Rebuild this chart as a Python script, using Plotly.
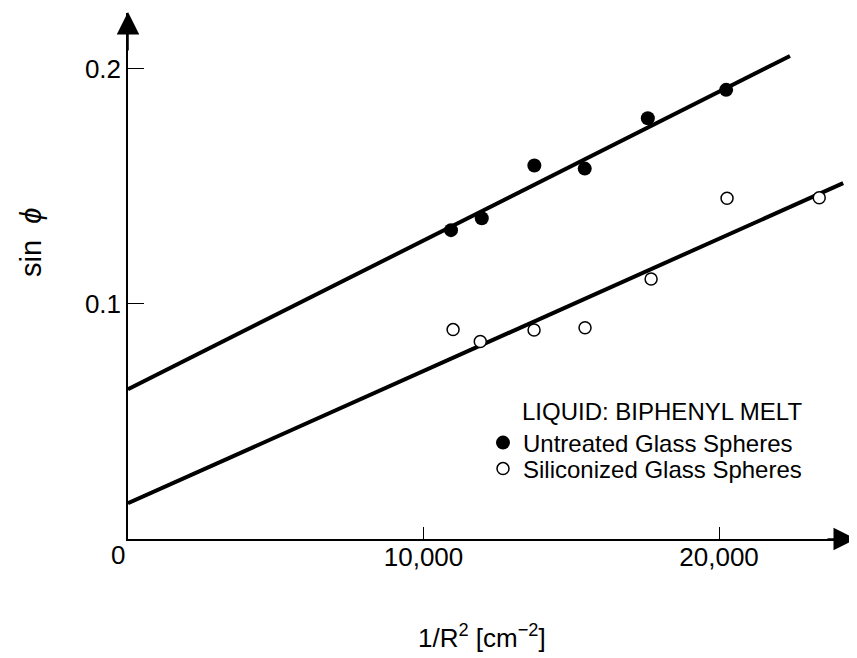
import plotly.graph_objects as go

# Data
untreated_x = [10930, 11970, 13750, 15455, 17590, 20240]
untreated_y = [0.1314, 0.1365, 0.1589, 0.1576, 0.1790, 0.1911]
silicon_x = [11000, 11920, 13740, 15465, 17700, 20270, 23390]
silicon_y = [0.0891, 0.0840, 0.0889, 0.0899, 0.1106, 0.1450, 0.1452]
fit_untreated_x = [0, 22400]
fit_untreated_y = [0.0637, 0.2055]
fit_silicon_x = [0, 24200]
fit_silicon_y = [0.0152, 0.1514]
x_ticks = [10000, 20000]
x_ticklabels = ["10,000", "20,000"]
y_ticks = [0.1, 0.2]
y_ticklabels = ["0.1", "0.2"]

XMAX = 24600
YMAX = 0.2238
FONT = "Liberation Sans, Arial, Helvetica, sans-serif"

# The page body has an 8px margin; the figure is sized so the plot area lands
# where the reference has it (x axis at y=539, y axis at x=128 in the window).
PW = 727
PH = 526


def px_x(p):
    return (p - 128) / PW


def px_y(p):
    return (539 - p) / PH


fig = go.Figure()
fig.add_trace(go.Scatter(x=fit_untreated_x, y=fit_untreated_y, mode="lines",
                         line=dict(color="black", width=4), showlegend=False, hoverinfo="skip"))
fig.add_trace(go.Scatter(x=fit_silicon_x, y=fit_silicon_y, mode="lines",
                         line=dict(color="black", width=4), showlegend=False, hoverinfo="skip"))
fig.add_trace(go.Scatter(x=untreated_x, y=untreated_y, mode="markers",
                         name="Untreated Glass Spheres", legend="legend",
                         marker=dict(symbol="circle", size=14, color="black")))
fig.add_trace(go.Scatter(x=silicon_x, y=silicon_y, mode="markers",
                         name="Siliconized Glass Spheres", legend="legend2",
                         marker=dict(symbol="circle", size=12, color="white",
                                     line=dict(color="black", width=1.5))))

leg_common = dict(xanchor="left", yanchor="middle", font=dict(size=24, family=FONT),
                  bgcolor="rgba(0,0,0,0)", itemsizing="trace")

fig.update_layout(
    width=849, height=650,
    margin=dict(l=120, r=2, t=5, b=119),
    paper_bgcolor="white", plot_bgcolor="white",
    font=dict(family=FONT, color="black", size=26),
    xaxis=dict(range=[0, XMAX], showgrid=False, zeroline=False, showline=True,
               linecolor="black", linewidth=1.5, tickvals=x_ticks, ticktext=x_ticklabels,
               ticks="inside", ticklen=12, tickwidth=1.2, tickcolor="black",
               ticklabelstandoff=-6,
               tickfont=dict(size=26, family=FONT)),
    yaxis=dict(range=[0, YMAX], showgrid=False, zeroline=False, showline=True,
               linecolor="black", linewidth=1.5, tickvals=y_ticks, ticktext=y_ticklabels,
               ticks="inside", ticklen=16, tickwidth=1.2, tickcolor="black",
               tickfont=dict(size=26, family=FONT)),
    legend=dict(x=px_x(483), y=px_y(443), **leg_common),
    legend2=dict(x=px_x(483), y=px_y(469), **leg_common),
    showlegend=True,
)

# Axis arrowheads (paper-referenced so they can sit exactly at the axis ends)
fig.add_annotation(x=px_x(856), y=0, xref="paper", yref="paper", ax=-30, ay=0, text="",
                   showarrow=True, arrowhead=2, arrowsize=3, arrowwidth=1.5, arrowcolor="black",
                   standoff=0)
fig.add_annotation(x=0, y=px_y(12), xref="paper", yref="paper", ax=0, ay=40, text="",
                   showarrow=True, arrowhead=2, arrowsize=3, arrowwidth=1.5, arrowcolor="black",
                   standoff=0)
# "0" origin label
fig.add_annotation(x=0, y=0, xref="x", yref="y", text="0", showarrow=False,
                   xshift=-10, yshift=-16, font=dict(size=26, family=FONT))

# Legend title
fig.add_annotation(x=px_x(520), y=px_y(411), xref="paper", yref="paper",
                   text="LIQUID: BIPHENYL MELT", showarrow=False, xanchor="left", yanchor="middle",
                   font=dict(size=24, family=FONT))

# Axis titles
fig.add_annotation(x=px_x(482), y=px_y(636), xref="paper", yref="paper",
                   xanchor="center", yanchor="middle",
                   text="1/R<sup>2</sup> [cm<sup>−2</sup>]", showarrow=False,
                   font=dict(size=26, family=FONT))
fig.add_annotation(x=px_x(31), y=px_y(243), xref="paper", yref="paper",
                   xanchor="center", yanchor="middle",
                   text="sin  <i>ϕ</i>", showarrow=False, textangle=-90,
                   font=dict(size=29, family=FONT))

fig.write_html("out.html")
